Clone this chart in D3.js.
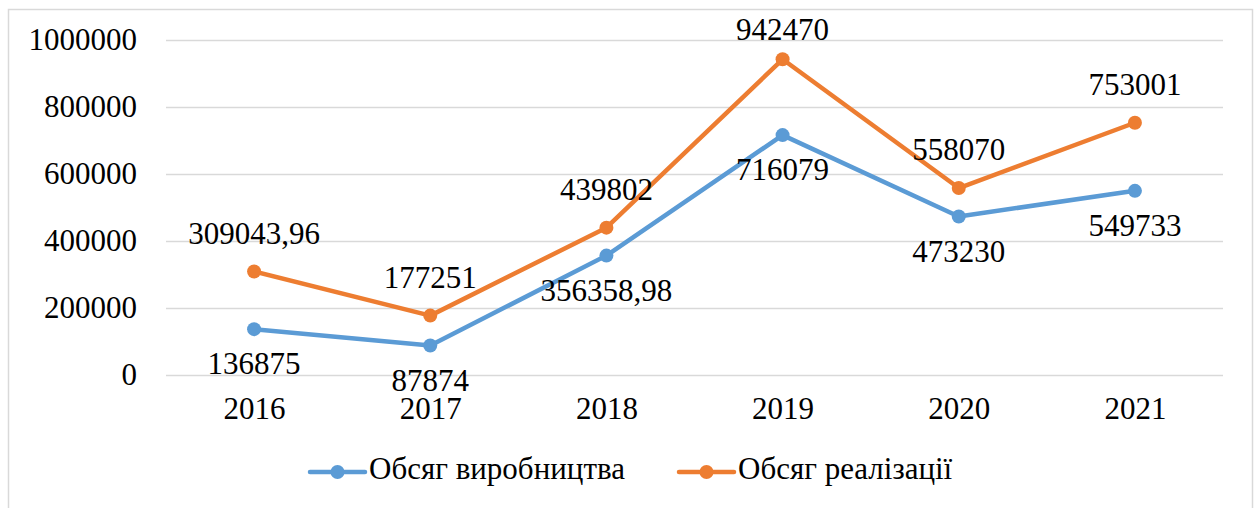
<!DOCTYPE html>
<html>
<head>
<meta charset="utf-8">
<script src="https://cdn.jsdelivr.net/npm/d3@7"></script>
<style>
  html, body { margin: 0; padding: 0; background: #fff; }
  svg { display: block; }
</style>
</head>
<body>
<svg id="chart" width="1257" height="508"></svg>
<script>
const years = ["2016", "2017", "2018", "2019", "2020", "2021"];
const production = [136875, 87874, 356358.98, 716079, 473230, 549733];
const sales = [309043.96, 177251, 439802, 942470, 558070, 753001];
const productionLabels = ["136875", "87874", "356358,98", "716079", "473230", "549733"];
const salesLabels = ["309043,96", "177251", "439802", "942470", "558070", "753001"];
const yTicks = [0, 200000, 400000, 600000, 800000, 1000000];
const seriesNames = ["Обсяг виробництва", "Обсяг реалізації"];

(function () {
const plotL = 166, plotR = 1223, plotT = 40, plotB = 375;
const FS = "31px";
const FONT = "Liberation Serif";
const colors = ["#5B9BD5", "#ED7D31"];

const svg = d3.select("#chart");

// chart border
svg.append("rect")
  .attr("x", 8.5).attr("y", 9.5)
  .attr("width", 1252.5 - 8.5).attr("height", 520)
  .attr("fill", "#fff").attr("stroke", "#D9D9D9").attr("stroke-width", 1.5);

const x = d3.scalePoint().domain(years).range([plotL, plotR]).padding(0.5);
const y = d3.scaleLinear().domain([0, 1000000]).range([plotB, plotT]);

// gridlines + y labels
const yAxis = d3.axisLeft(y).tickValues(yTicks).tickSize(-(plotR - plotL)).tickPadding(29).tickFormat(d => String(d));
const yg = svg.append("g").attr("transform", `translate(${plotL},0)`).call(yAxis);
yg.select(".domain").remove();
yg.selectAll(".tick line").attr("stroke", "#D9D9D9").attr("stroke-width", 1.5);
yg.selectAll(".tick text").attr("fill", "#000")
  .style("font-family", FONT).style("font-size", FS);

// x labels
const xAxis = d3.axisBottom(x).tickSize(0).tickPadding(0);
const xg = svg.append("g").attr("transform", `translate(0,${plotB})`).call(xAxis);
xg.select(".domain").remove();
xg.selectAll(".tick text")
  .attr("fill", "#000").attr("dy", null).attr("y", 37).attr("dominant-baseline", "middle")
  .style("font-family", FONT).style("font-size", FS);

const series = [
  { name: seriesNames[0], values: production, labels: productionLabels, color: colors[0], offset: 38 },
  { name: seriesNames[1], values: sales, labels: salesLabels, color: colors[1], offset: -35 }
];

const line = d3.line().x((d, i) => x(years[i])).y(d => y(d));

series.forEach(s => {
  svg.append("path").datum(s.values)
    .attr("d", line).attr("fill", "none")
    .attr("stroke", s.color).attr("stroke-width", 4.5)
    .attr("stroke-linejoin", "round").attr("stroke-linecap", "round");
  svg.selectAll(null).data(s.values).enter().append("circle")
    .attr("cx", (d, i) => x(years[i])).attr("cy", d => y(d))
    .attr("r", 7).attr("fill", s.color);
});

series.forEach(s => {
  svg.selectAll(null).data(s.values).enter().append("text")
    .attr("x", (d, i) => x(years[i]))
    .attr("y", d => Math.max(y(d) + s.offset, 33))
    .attr("text-anchor", "middle").attr("dominant-baseline", "middle")
    .attr("fill", "#000")
    .style("font-family", FONT).style("font-size", FS)
    .text((d, i) => s.labels[i]);
});

// legend
const legendItems = [
  { name: seriesNames[0], color: colors[0], x0: 310 },
  { name: seriesNames[1], color: colors[1], x0: 679 }
];
const ly = 472;
legendItems.forEach(it => {
  const g = svg.append("g");
  g.append("line").attr("x1", it.x0).attr("x2", it.x0 + 55).attr("y1", ly).attr("y2", ly)
    .attr("stroke", it.color).attr("stroke-width", 4.5).attr("stroke-linecap", "round");
  g.append("circle").attr("cx", it.x0 + 27.5).attr("cy", ly).attr("r", 7).attr("fill", it.color);
  g.append("text").attr("x", it.x0 + 59).attr("y", ly).attr("dominant-baseline", "middle")
    .attr("fill", "#000")
    .style("font-family", FONT).style("font-size", FS).text(it.name);
});
})();
</script>
</body>
</html>
